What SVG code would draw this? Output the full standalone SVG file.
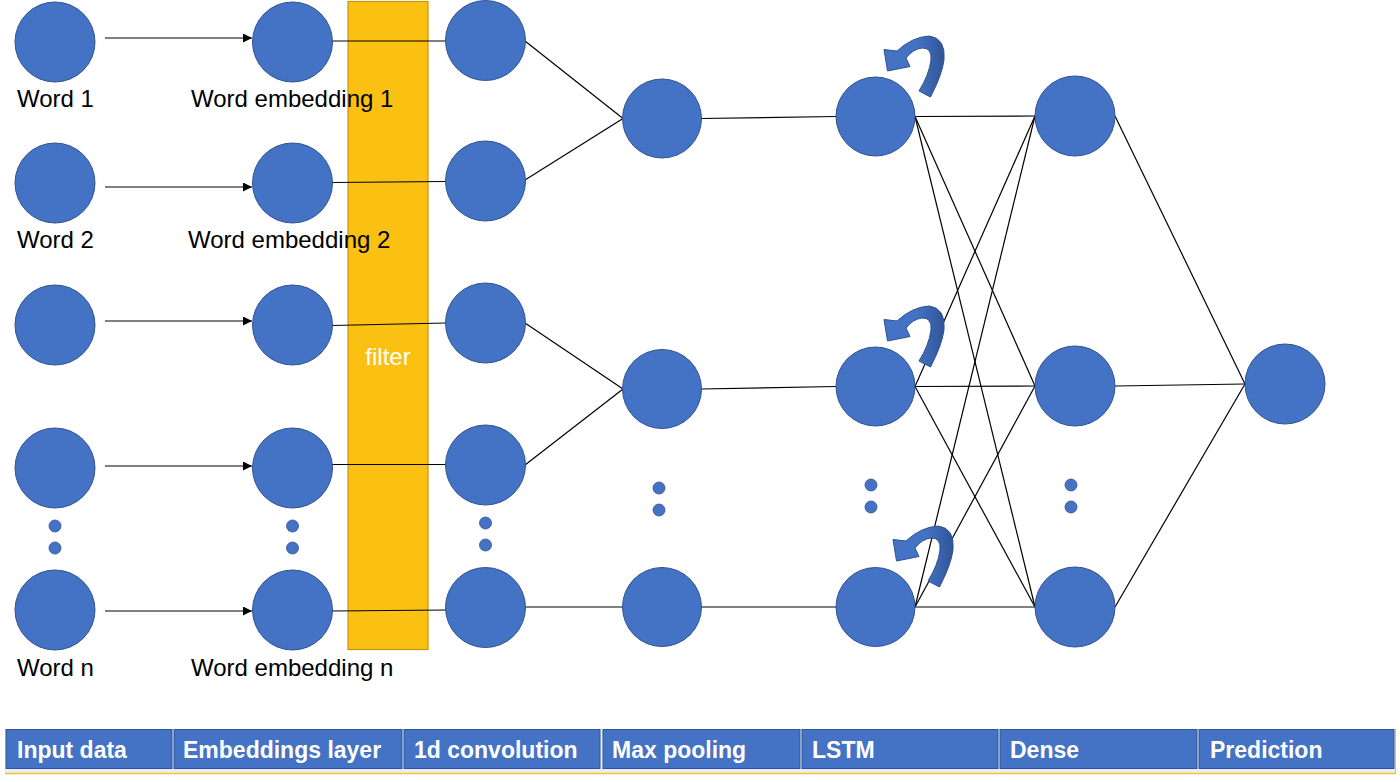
<svg xmlns="http://www.w3.org/2000/svg" xmlns:xlink="http://www.w3.org/1999/xlink" width="1400" height="782" viewBox="0 0 1400 782">
<style>
.node{fill:#4472C4;stroke:#2F528F;stroke-width:1}
.dot{fill:#4472C4;stroke:#2F528F;stroke-width:0.8}
.ln{stroke:#000;stroke-width:1.2;fill:none}
.lbl{font-family:"Liberation Sans",Arial,sans-serif;font-size:24px;fill:#000}
.cell{fill:#4472C4;stroke:#2F5597;stroke-width:1}
.hdr{font-family:"Liberation Sans",Arial,sans-serif;font-size:23px;font-weight:bold;fill:#fff}
.loop{stroke:#2F528F;stroke-width:1}
</style>
<defs>
<marker id="ah" viewBox="0 0 10 10" refX="10" refY="5" markerWidth="9" markerHeight="9" markerUnits="userSpaceOnUse" orient="auto">
<path d="M0,0 L10,5 L0,10 Z" fill="#000"/>
</marker>
<linearGradient id="lg" x1="0" y1="0" x2="1" y2="0">
<stop offset="0" stop-color="#4472C4"/>
<stop offset="0.55" stop-color="#4472C4"/>
<stop offset="1" stop-color="#2F5597"/>
</linearGradient>
<path id="loopArrow" class="loop" fill="url(#lg)" d="M884,49.5 L897,51 Q912,37 929,36 Q946,38 944,60 Q942,75 930.5,97 L919,91 Q929,75 931,60 Q932,47.5 922,48 Q913,49 906,58 L910,66.5 L887.5,71 Z"/>
</defs>
<rect width="1400" height="782" fill="#fff"/>

<g id="filter">
<rect x="348" y="1.5" width="80" height="648" fill="#FAC012" stroke="#C8960C" stroke-width="1.2"/>
<text x="388" y="365" text-anchor="middle" style="font-family:'Liberation Sans',Arial,sans-serif;font-size:24px;fill:#fff">filter</text>
</g>

<g id="connectors">
<line class="ln" x1="105" y1="38" x2="252" y2="38" marker-end="url(#ah)"/>
<line class="ln" x1="105" y1="187" x2="252" y2="187" marker-end="url(#ah)"/>
<line class="ln" x1="105" y1="321" x2="252" y2="321" marker-end="url(#ah)"/>
<line class="ln" x1="105" y1="466" x2="252" y2="466" marker-end="url(#ah)"/>
<line class="ln" x1="105" y1="611" x2="252" y2="611" marker-end="url(#ah)"/>
<line class="ln" x1="332" y1="41" x2="446" y2="41"/>
<line class="ln" x1="332" y1="182.5" x2="446" y2="181.5"/>
<line class="ln" x1="332" y1="325.5" x2="446" y2="323"/>
<line class="ln" x1="332" y1="464.5" x2="446" y2="464.5"/>
<line class="ln" x1="332" y1="611" x2="446" y2="610"/>
<line class="ln" x1="525" y1="41" x2="623" y2="118.5"/>
<line class="ln" x1="525" y1="180" x2="623" y2="118.5"/>
<line class="ln" x1="525" y1="323" x2="623" y2="389"/>
<line class="ln" x1="525" y1="465" x2="623" y2="389"/>
<line class="ln" x1="525" y1="607" x2="623" y2="607"/>
<line class="ln" x1="701" y1="118.5" x2="836" y2="116.5"/>
<line class="ln" x1="701" y1="389" x2="836" y2="386.5"/>
<line class="ln" x1="701" y1="607" x2="836" y2="607"/>
<line class="ln" x1="915" y1="116.5" x2="1035" y2="116"/>
<line class="ln" x1="915" y1="116.5" x2="1035" y2="386"/>
<line class="ln" x1="915" y1="116.5" x2="1035" y2="607"/>
<line class="ln" x1="915" y1="386.5" x2="1035" y2="116"/>
<line class="ln" x1="915" y1="386.5" x2="1035" y2="386"/>
<line class="ln" x1="915" y1="386.5" x2="1035" y2="607"/>
<line class="ln" x1="915" y1="607" x2="1035" y2="116"/>
<line class="ln" x1="915" y1="607" x2="1035" y2="386"/>
<line class="ln" x1="915" y1="607" x2="1035" y2="607"/>
<line class="ln" x1="1115" y1="116" x2="1245" y2="384"/>
<line class="ln" x1="1115" y1="386" x2="1245" y2="384"/>
<line class="ln" x1="1115" y1="607" x2="1245" y2="384"/>
</g>

<g id="input-layer">
<circle class="node" cx="55" cy="42" r="40"/>
<circle class="node" cx="55" cy="183" r="40"/>
<circle class="node" cx="55" cy="325" r="40"/>
<circle class="node" cx="55" cy="468" r="40"/>
<circle class="dot" cx="55" cy="526" r="6"/>
<circle class="dot" cx="55" cy="548" r="6"/>
<circle class="node" cx="55" cy="610" r="40"/>
<text class="lbl" x="17" y="107">Word 1</text>
<text class="lbl" x="17" y="248">Word 2</text>
<text class="lbl" x="17" y="676">Word n</text>
</g>

<g id="embedding-layer">
<circle class="node" cx="292.5" cy="42" r="40"/>
<circle class="node" cx="292.5" cy="183" r="40"/>
<circle class="node" cx="292.5" cy="325" r="40"/>
<circle class="node" cx="292.5" cy="468" r="40"/>
<circle class="dot" cx="292.5" cy="526" r="6"/>
<circle class="dot" cx="292.5" cy="548" r="6"/>
<circle class="node" cx="292.5" cy="610" r="40"/>
<text class="lbl" x="191" y="107">Word embedding 1</text>
<text class="lbl" x="188" y="248">Word embedding 2</text>
<text class="lbl" x="191" y="676">Word embedding n</text>
</g>

<g id="conv-layer">
<circle class="node" cx="485.5" cy="40.5" r="40"/>
<circle class="node" cx="485.5" cy="181" r="40"/>
<circle class="node" cx="485.5" cy="323" r="40"/>
<circle class="node" cx="485.5" cy="465" r="40"/>
<circle class="dot" cx="485.5" cy="523" r="6"/>
<circle class="dot" cx="485.5" cy="545" r="6"/>
<circle class="node" cx="485.5" cy="607.5" r="40"/>
</g>

<g id="maxpool-layer">
<circle class="node" cx="662" cy="118.5" r="39.5"/>
<circle class="node" cx="662" cy="389" r="39.5"/>
<circle class="dot" cx="659" cy="488" r="6"/>
<circle class="dot" cx="659" cy="510" r="6"/>
<circle class="node" cx="662" cy="607" r="39.5"/>
</g>

<g id="lstm-layer">
<circle class="node" cx="875.5" cy="116.5" r="39.5"/>
<circle class="node" cx="875.5" cy="386.5" r="39.5"/>
<circle class="dot" cx="871" cy="485" r="6"/>
<circle class="dot" cx="871" cy="507" r="6"/>
<circle class="node" cx="875.5" cy="607" r="39.5"/>
<use xlink:href="#loopArrow" href="#loopArrow"/>
<use xlink:href="#loopArrow" href="#loopArrow" transform="translate(0,270)"/>
<use xlink:href="#loopArrow" href="#loopArrow" transform="translate(9,490)"/>
</g>

<g id="dense-layer">
<circle class="node" cx="1075" cy="116" r="40"/>
<circle class="node" cx="1075" cy="386" r="40"/>
<circle class="dot" cx="1071" cy="485" r="6"/>
<circle class="dot" cx="1071" cy="507" r="6"/>
<circle class="node" cx="1075" cy="607" r="40"/>
</g>

<g id="prediction-layer">
<circle class="node" cx="1285" cy="384" r="40"/>
</g>

<g id="layer-table">
<rect x="5" y="729" width="1391" height="45" fill="#E9EEF6"/>
<line x1="5" y1="773.5" x2="1396" y2="773.5" stroke="#F2C230" stroke-width="1.5"/>
<line x1="1395.5" y1="729" x2="1395.5" y2="774" stroke="#F2C230" stroke-width="1.2"/>
<rect class="cell" x="6" y="729.5" width="166" height="39"/>
<rect class="cell" x="174" y="729.5" width="228" height="39"/>
<rect class="cell" x="404" y="729.5" width="196" height="39"/>
<rect class="cell" x="603" y="729.5" width="197" height="39"/>
<rect class="cell" x="802" y="729.5" width="196" height="39"/>
<rect class="cell" x="1000" y="729.5" width="197" height="39"/>
<rect class="cell" x="1199" y="729.5" width="195" height="39"/>
<text class="hdr" x="17" y="758">Input data</text>
<text class="hdr" x="183" y="758">Embeddings layer</text>
<text class="hdr" x="414" y="758">1d convolution</text>
<text class="hdr" x="612" y="758">Max pooling</text>
<text class="hdr" x="812" y="758">LSTM</text>
<text class="hdr" x="1010" y="758">Dense</text>
<text class="hdr" x="1210" y="758">Prediction</text>
</g>
</svg>
